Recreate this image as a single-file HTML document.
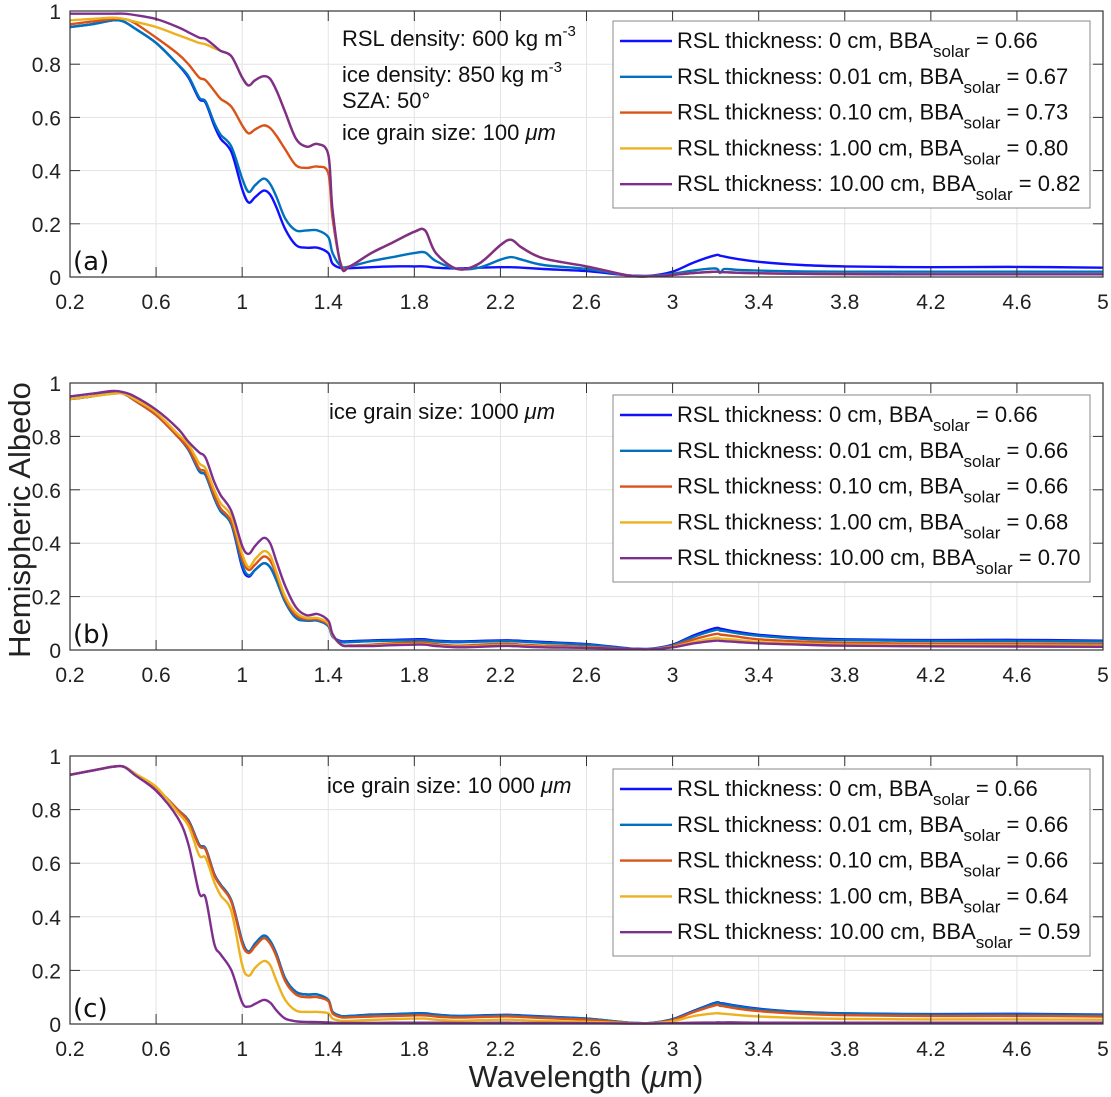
<!DOCTYPE html>
<html><head><meta charset="utf-8">
<style>
html,body{margin:0;padding:0;background:#fff;}
svg{display:block;font-family:"Liberation Sans",Arial,sans-serif;}
</style></head>
<body>
<svg id="fig" width="1111" height="1097" viewBox="0 0 1111 1097" xmlns="http://www.w3.org/2000/svg"></svg>
<script>
// ---- data ----
const wavelengths = [0.2,0.3,0.4,0.45,0.5,0.6,0.7,0.75,0.8,0.83,0.87,0.9,0.95,1.0,1.03,1.06,1.1,1.13,1.16,1.2,1.25,1.3,1.35,1.4,1.42,1.46,1.5,1.6,1.7,1.8,1.85,1.9,2.0,2.1,2.2,2.25,2.3,2.4,2.6,2.8,2.9,3.0,3.1,3.2,3.22,3.24,3.3,3.4,3.6,3.8,4.2,4.6,5.0];
const xTicks = [0.2,0.6,1,1.4,1.8,2.2,2.6,3,3.4,3.8,4.2,4.6,5];
const yTicks = [0,0.2,0.4,0.6,0.8,1];
const seriesNames = ["0 cm","0.01 cm","0.10 cm","1.00 cm","10.00 cm"];
const bbaA = ["0.66","0.67","0.73","0.80","0.82"];
const bbaB = ["0.66","0.66","0.66","0.68","0.70"];
const bbaC = ["0.66","0.66","0.66","0.64","0.59"];

const a0 = [.94,.95,.965,.96,.935,.88,.80,.75,.67,.655,.57,.52,.47,.33,.28,.30,.325,.31,.26,.18,.12,.11,.11,.09,.05,.033,.033,.037,.04,.04,.04,.035,.032,.035,.037,.037,.035,.03,.022,.006,.005,.02,.055,.082,.08,.077,.068,.057,.045,.04,.037,.038,.035];
const a1 = [.94,.95,.965,.96,.935,.88,.80,.755,.675,.66,.58,.535,.49,.37,.32,.345,.37,.35,.30,.22,.175,.175,.175,.15,.09,.04,.04,.06,.075,.09,.092,.06,.03,.035,.065,.075,.065,.045,.03,.006,.004,.012,.025,.032,.015,.03,.027,.024,.021,.02,.02,.02,.02];
const a2 = [.95,.96,.97,.97,.955,.90,.84,.80,.75,.74,.70,.67,.64,.57,.54,.555,.57,.56,.53,.48,.42,.41,.415,.39,.22,.045,.04,.09,.13,.17,.175,.09,.03,.05,.12,.14,.11,.07,.04,.005,.003,.008,.015,.02,.018,.018,.016,.014,.012,.011,.01,.01,.01];
const a3 = [.965,.97,.975,.97,.96,.94,.91,.895,.88,.875,.86,.85,.83,.75,.72,.74,.755,.745,.70,.62,.52,.49,.50,.46,.25,.04,.04,.09,.13,.17,.175,.09,.03,.05,.12,.14,.11,.07,.04,.005,.003,.008,.015,.02,.018,.018,.016,.014,.012,.011,.01,.01,.01];
const a4 = [.99,.99,.99,.99,.985,.97,.94,.92,.90,.895,.87,.85,.83,.75,.72,.74,.755,.745,.70,.62,.52,.49,.50,.46,.25,.04,.04,.09,.13,.17,.175,.09,.03,.05,.12,.14,.11,.07,.04,.005,.003,.008,.015,.02,.018,.018,.016,.014,.012,.011,.01,.01,.01];

const b0 = [.94,.95,.965,.96,.935,.88,.80,.75,.67,.655,.57,.52,.47,.31,.275,.30,.325,.31,.26,.18,.12,.11,.11,.09,.05,.033,.033,.036,.038,.04,.04,.035,.032,.034,.036,.036,.034,.03,.022,.006,.005,.02,.055,.082,.08,.077,.068,.057,.045,.04,.037,.038,.035];
const b1 = [.94,.95,.965,.96,.935,.88,.80,.75,.67,.655,.57,.52,.47,.32,.28,.30,.325,.31,.26,.18,.12,.11,.11,.09,.05,.03,.03,.033,.035,.036,.036,.032,.029,.031,.033,.033,.031,.027,.02,.005,.004,.018,.05,.075,.073,.071,.063,.053,.042,.037,.034,.034,.032];
const b2 = [.94,.95,.96,.96,.935,.88,.80,.755,.68,.665,.58,.53,.48,.34,.30,.32,.35,.335,.28,.19,.13,.115,.115,.095,.055,.02,.017,.02,.025,.028,.028,.022,.016,.02,.023,.023,.02,.016,.012,.004,.003,.015,.04,.06,.058,.056,.05,.04,.032,.027,.024,.024,.022];
const b3 = [.94,.95,.96,.96,.94,.89,.81,.77,.70,.68,.60,.55,.50,.36,.31,.34,.37,.355,.29,.20,.14,.12,.12,.10,.055,.02,.015,.017,.02,.022,.022,.017,.012,.015,.018,.018,.016,.012,.009,.004,.003,.012,.03,.045,.043,.042,.038,.03,.024,.02,.018,.017,.016];
const b4 = [.95,.96,.97,.965,.95,.90,.83,.78,.74,.72,.63,.58,.52,.39,.36,.39,.42,.40,.33,.24,.16,.13,.135,.11,.06,.02,.015,.015,.018,.02,.02,.015,.01,.012,.015,.015,.013,.01,.008,.004,.003,.01,.025,.035,.034,.033,.03,.025,.02,.016,.014,.013,.012];

const c0 = [.93,.945,.96,.96,.935,.88,.80,.76,.67,.655,.56,.52,.46,.31,.27,.30,.33,.31,.26,.17,.12,.11,.11,.09,.045,.03,.03,.035,.037,.04,.04,.035,.03,.032,.034,.034,.032,.028,.02,.005,.004,.018,.05,.08,.078,.076,.068,.057,.045,.04,.037,.038,.035];
const c1 = [.93,.945,.96,.96,.935,.88,.80,.76,.67,.655,.56,.52,.46,.31,.27,.30,.33,.31,.26,.17,.12,.11,.11,.09,.045,.03,.03,.034,.036,.039,.039,.034,.03,.031,.033,.033,.031,.027,.02,.005,.004,.017,.048,.078,.076,.074,.066,.055,.044,.039,.036,.036,.034];
const c2 = [.93,.945,.96,.96,.935,.88,.80,.755,.665,.65,.555,.515,.455,.30,.265,.29,.32,.30,.25,.16,.11,.10,.10,.085,.04,.025,.025,.028,.03,.032,.032,.028,.024,.026,.028,.028,.026,.022,.016,.004,.003,.015,.045,.07,.068,.066,.058,.048,.038,.033,.03,.03,.028];
const c3 = [.93,.945,.96,.96,.935,.885,.79,.74,.63,.62,.53,.48,.42,.22,.18,.21,.235,.22,.16,.09,.05,.045,.045,.04,.02,.012,.012,.015,.018,.02,.02,.016,.012,.014,.016,.016,.014,.011,.008,.003,.003,.01,.03,.04,.039,.038,.034,.028,.022,.019,.017,.017,.016];
const c4 = [.93,.945,.96,.96,.93,.87,.77,.67,.49,.47,.30,.26,.20,.08,.065,.075,.09,.08,.05,.02,.01,.008,.007,.006,.005,.004,.004,.004,.005,.005,.005,.005,.004,.004,.005,.005,.004,.004,.003,.002,.002,.003,.005,.006,.006,.006,.006,.005,.005,.005,.005,.005,.005];

const colors = ["#1010ff","#0072BD","#D95319","#EDB120","#7E2F8E"];

// ---- layout ----
const NS = "http://www.w3.org/2000/svg";
const svg = document.getElementById("fig");
const X0 = 70, X1 = 1103;
function mk(tag, attrs, parent){
  const e = document.createElementNS(NS, tag);
  for (const k in attrs) e.setAttribute(k, attrs[k]);
  (parent||svg).appendChild(e);
  return e;
}
function smoothPath(pts){
  let d = "M" + pts[0][0].toFixed(1) + "," + pts[0][1].toFixed(1);
  for (let i = 0; i < pts.length - 1; i++){
    const p0 = pts[i-1] || pts[i], p1 = pts[i], p2 = pts[i+1], p3 = pts[i+2] || p2;
    const c1x = p1[0] + (p2[0]-p0[0])/6, c1y = p1[1] + (p2[1]-p0[1])/6;
    const c2x = p2[0] - (p3[0]-p1[0])/6, c2y = p2[1] - (p3[1]-p1[1])/6;
    d += " C" + c1x.toFixed(1)+","+c1y.toFixed(1)+" "+c2x.toFixed(1)+","+c2y.toFixed(1)+" "+p2[0].toFixed(1)+","+p2[1].toFixed(1);
  }
  return d;
}

const panels = [
  {id:"a", top:11, bottom:277, series:[a0,a1,a2,a3,a4], bba:bbaA, label:"(a)", legTop:21,
   notes:[["RSL density: 600 kg m","-3",46],["ice density: 850 kg m","-3",82],["SZA: 50°","",108],["ice grain size: 100 ","μm",140]], noteX:342},
  {id:"b", top:383, bottom:650, series:[b0,b1,b2,b3,b4], bba:bbaB, label:"(b)", legTop:395,
   notes:[["ice grain size: 1000 ","μm",419]], noteX:329},
  {id:"c", top:756, bottom:1024, series:[c0,c1,c2,c3,c4], bba:bbaC, label:"(c)", legTop:769,
   notes:[["ice grain size: 10 000 ","μm",793]], noteX:327}
];

panels.forEach(p => {
  const g = mk("g", {});
  
  
  const xs = v => X0 + (v - 0.2) / 4.8 * (X1 - X0);
  const ys = v => p.bottom - v * (p.bottom - p.top);
  xTicks.forEach(t => {
    const l = mk("line", {x1:xs(t), x2:xs(t), y1:p.top, y2:p.bottom, stroke:"#e3e3e3", "stroke-width":1}, g);
    
    
  });
  yTicks.forEach(t => {
    const l = mk("line", {x1:X0, x2:X1, y1:ys(t), y2:ys(t), stroke:"#e3e3e3", "stroke-width":1}, g);
    
    
  });
  p.series.forEach((vals, si) => {
    const pts = wavelengths.map((w, i) => [xs(w), ys(vals[i])]);
    const path = mk("path", {d:smoothPath(pts), fill:"none", stroke:colors[si], "stroke-width":2.4, "stroke-linejoin":"round"}, g);
    
    
  });
  xTicks.forEach(t => {
    mk("line", {x1:xs(t), x2:xs(t), y1:p.bottom, y2:p.bottom-10, stroke:"#333", "stroke-width":1}, g);
    mk("line", {x1:xs(t), x2:xs(t), y1:p.top, y2:p.top+10, stroke:"#333", "stroke-width":1}, g);
    const tx = mk("text", {x:xs(t), y:p.bottom+32, "text-anchor":"middle", "font-size":21, fill:"#222"}, g);
    tx.textContent = String(t);
    
    
  });
  yTicks.forEach(t => {
    mk("line", {x1:X0, x2:X0+10, y1:ys(t), y2:ys(t), stroke:"#333", "stroke-width":1}, g);
    mk("line", {x1:X1, x2:X1-10, y1:ys(t), y2:ys(t), stroke:"#333", "stroke-width":1}, g);
    const tx = mk("text", {x:X0-9, y:ys(t)+8, "text-anchor":"end", "font-size":21, fill:"#222"}, g);
    tx.textContent = String(t);
    
    
  });
  const box = mk("rect", {x:X0, y:p.top, width:X1-X0, height:p.bottom-p.top, fill:"none", stroke:"#333", "stroke-width":1.2}, g);
  
  
  const pl = mk("text", {x:73, y:p.bottom-7, "font-size":26, fill:"#111", "font-family":"DejaVu Sans, sans-serif"}, g);
  pl.textContent = p.label;
  
  
  p.notes.forEach(n => {
    const t = mk("text", {x:p.noteX, y:n[2], "font-size":22, fill:"#111"}, g);
    
    
    const s1 = mk("tspan", {}, t); s1.textContent = n[0];
    if (n[1] === "-3"){ const s2 = mk("tspan", {dy:-10, "font-size":15}, t); s2.textContent = n[1]; }
    else if (n[1]){ const s2 = mk("tspan", {"font-style":"italic"}, t); s2.textContent = n[1]; }
  });
  const lg = mk("g", {}, g);
  
  
  mk("rect", {x:613, y:p.legTop, width:477, height:187, fill:"#fff", stroke:"#888", "stroke-width":1}, lg);
  seriesNames.forEach((nm, i) => {
    const cy = p.legTop + 20 + i * 35.8;
    const ln = mk("line", {x1:620, x2:672, y1:cy, y2:cy, stroke:colors[i], "stroke-width":2.4}, lg);
    
    
    const t = mk("text", {x:677, y:cy+7, "font-size":22, fill:"#111"}, lg);
    
    
    const s1 = mk("tspan", {}, t); s1.textContent = "RSL thickness: " + nm + ", BBA";
    const s2 = mk("tspan", {dy:9, "font-size":17}, t); s2.textContent = "solar";
    const s3 = mk("tspan", {dy:-9}, t); s3.textContent = " = " + p.bba[i];
  });
});

const yl = mk("text", {x:0, y:0, "font-size":31, fill:"#222", "text-anchor":"middle", transform:"translate(30,520) rotate(-90)"});
yl.textContent = "Hemispheric Albedo";


const xl = mk("text", {x:586, y:1087, "font-size":31, fill:"#222", "text-anchor":"middle"});


const xa = mk("tspan", {}, xl); xa.textContent = "Wavelength (";
const xb = mk("tspan", {"font-style":"italic"}, xl); xb.textContent = "μ";
const xc = mk("tspan", {}, xl); xc.textContent = "m)";
</script>
</body></html>
